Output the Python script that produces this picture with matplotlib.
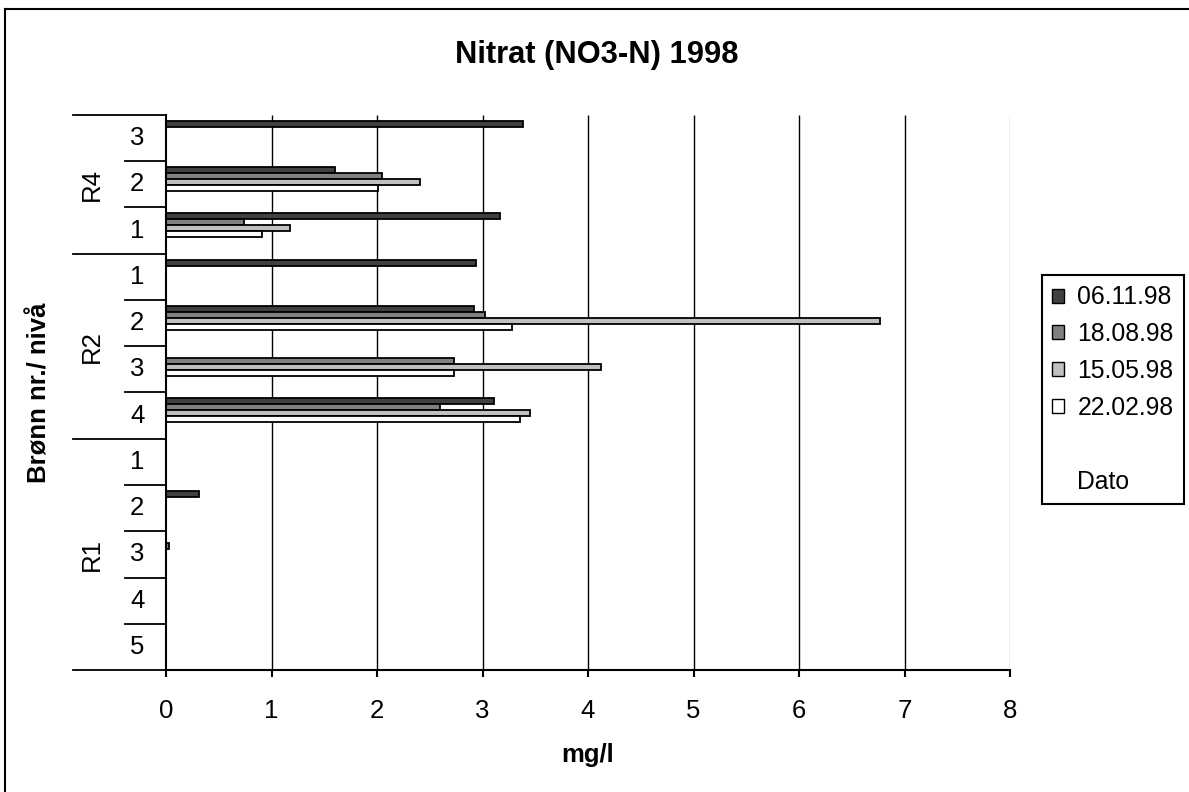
import numpy as np
import matplotlib
matplotlib.use('Agg')
import matplotlib.pyplot as plt
import matplotlib.transforms as mtransforms
from matplotlib.patches import Patch
from matplotlib.lines import Line2D

plt.rcParams['font.family'] = ['Liberation Sans', 'DejaVu Sans']

# ---- data -------------------------------------------------------------
title = 'Nitrat (NO3-N) 1998'
x_label = 'mg/l'
y_label = 'Brønn nr./ nivå'
legend_note = 'Dato'

wells = ['R4', 'R2', 'R1']
levels = [['3', '2', '1'],
          ['1', '2', '3', '4'],
          ['1', '2', '3', '4', '5']]

dates = ['06.11.98', '18.08.98', '15.05.98', '22.02.98']
colors = ['#404040', '#808080', '#c0c0c0', '#ffffff']

nan = np.nan
v_061198 = [3.38, 1.60, 3.17, 2.94, 2.92, nan, 3.11, nan, 0.31, nan, nan, nan]
v_180898 = [nan, 2.05, 0.74, nan, 3.02, 2.73, 2.60, nan, nan, 0.03, nan, nan]
v_150598 = [nan, 2.41, 1.18, nan, 6.77, 4.12, 3.45, nan, nan, nan, nan, nan]
v_220298 = [nan, 2.01, 0.91, nan, 3.28, 2.73, 3.36, nan, nan, nan, nan, nan]
series = [v_061198, v_180898, v_150598, v_220298]

x_ticks = [0, 1, 2, 3, 4, 5, 6, 7, 8]

# ---- figure -----------------------------------------------------------
W, H = 1189, 792
FS = 18.5
FS_LEG = 17.8
fig = plt.figure(figsize=(W / 100, H / 100), dpi=100)
fig.patch.set_facecolor('white')
ax = fig.add_axes([166 / W, 1 - 670 / H, 844 / W, 555 / H])

n_cat = sum(len(l) for l in levels)
pos = np.arange(n_cat)
bar_h = 0.13
offsets = [-0.31, -0.18, -0.05, 0.08]

for vals, col, off, lab in zip(series, colors, offsets, dates):
    v = np.asarray(vals, dtype=float)
    m = ~np.isnan(v)
    ax.barh(pos[m] + off, v[m], height=bar_h, color=col,
            edgecolor='black', linewidth=1.3, label=lab, zorder=3)

ax.set_xlim(x_ticks[0], x_ticks[-1])
ax.set_ylim(n_cat - 0.5, -0.5)

# vertical gridlines
ax.vlines(x_ticks[1:-1], -0.5, n_cat - 0.5, color='black', lw=1.0, zorder=1)
ax.vlines(x_ticks[-1], -0.5, n_cat - 0.5, color='#b8b8b8', lw=1.0, zorder=1)

ax.set_xticks(x_ticks)
ax.set_xticklabels([str(t) for t in x_ticks])
ax.tick_params(axis='x', direction='out', length=5, width=1.5,
               labelsize=FS, pad=16, color='black')
ax.set_yticks([])
ax.tick_params(axis='y', left=False)
for s in ['top', 'right']:
    ax.spines[s].set_visible(False)
for s in ['left', 'bottom']:
    ax.spines[s].set_linewidth(1.5)
    ax.spines[s].set_zorder(4)

# multi-level category axis
trans = mtransforms.blended_transform_factory(ax.transAxes, ax.transData)
outer_x = -0.110
inner_x = -0.0486
start = 0
group_edges = [-0.5]
for well, lv in zip(wells, levels):
    n = len(lv)
    for j, lab in enumerate(lv):
        ax.text(-0.034, start + j, lab, transform=trans, ha='center',
                va='center', fontsize=FS)
        if j > 0:
            ax.plot([inner_x, 0], [start + j - 0.5] * 2, transform=trans,
                    color='black', lw=1.3, clip_on=False)
    ax.text(-0.0875, start + (n - 1) / 2, well, transform=trans,
            ha='center', va='center', rotation=90, fontsize=FS)
    start += n
    group_edges.append(start - 0.5)
for e in group_edges:
    ax.plot([outer_x, 0], [e, e], transform=trans, color='black', lw=1.3,
            clip_on=False)

# titles
fig.text(597 / W, 1 - 55 / H, title, ha='center', va='center',
         fontsize=22.2, fontweight='bold')
fig.text(588 / W, 1 - 755 / H, x_label, ha='center', va='center',
         fontsize=FS, fontweight='bold')
fig.text(40 / W, 1 - 393 / H, y_label, ha='center', va='center',
         rotation=90, fontsize=FS, fontweight='bold')

# legend
handles = [Patch(facecolor=c, edgecolor='black', linewidth=1.0) for c in colors]
handles += [Patch(facecolor='none', edgecolor='none'),
            Patch(facecolor='none', edgecolor='none')]
labels = dates + [' ', legend_note]
leg = fig.legend(handles, labels, loc='upper left',
                 bbox_to_anchor=(1042 / W, 1 - 275 / H), fontsize=FS_LEG,
                 frameon=True, fancybox=False, framealpha=1,
                 edgecolor='black', handlelength=0.49, handleheight=0.49,
                 handletextpad=0.52, labelspacing=0.52, borderpad=0.42,
                 borderaxespad=0)
leg.get_frame().set_linewidth(1.5)

# outer chart frame
fig.add_artist(Line2D([5 / W, 5 / W], [0, 1 - 9 / H], transform=fig.transFigure,
                      color='black', lw=1.5))
fig.add_artist(Line2D([5 / W, 1], [1 - 9 / H, 1 - 9 / H],
                      transform=fig.transFigure, color='black', lw=1.5))

fig.savefig('out.png', dpi=100)
